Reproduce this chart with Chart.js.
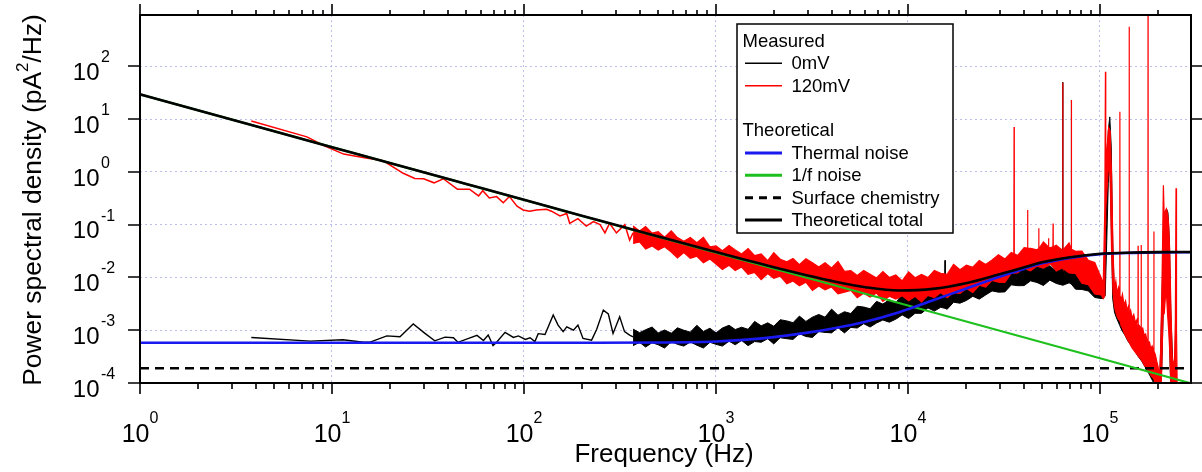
<!DOCTYPE html>
<html><head><meta charset="utf-8">
<script src="https://cdn.jsdelivr.net/npm/chart.js@4.4.0/dist/chart.umd.min.js"></script>
<style>html,body{margin:0;padding:0;background:#fff;overflow:hidden}canvas{display:block}</style>
</head><body><canvas id="c" width="1202" height="472" style="width:1202px;height:472px"></canvas>
<script>
// ---------- tick values / labels ----------
const xMajorTicks = [1, 10, 100, 1000, 10000, 100000];
const xTickExp = ['0', '1', '2', '3', '4', '5'];
const xMinorMult = [2, 3, 4, 5, 6, 7, 8, 9];
const yMajorTicks = [1e-4, 1e-3, 1e-2, 1e-1, 1, 10, 100];
const yTickExp = ['-4', '-3', '-2', '-1', '0', '1', '2'];
const xMin = 1, xMax = 2.98e5, yMin = 1e-4, yMax = 937;

// ---------- measured 0mV (black) ----------
const blackLowF = [3.8, 7.7, 11.4, 14.6, 15.8, 19.3, 22.6, 26.5, 30.5, 34.3, 38.8, 42.9, 45.3, 56.9, 61.5, 65.1, 69, 72, 79.7, 88.1, 93.5, 101.7, 107.6, 114, 118.6, 128.7, 142, 150.5, 160, 167, 181, 191, 203, 225, 239, 259, 275, 291, 315, 334, 355, 370];
const blackLowV = [7.3e-4, 6.2e-4, 6.6e-4, 5.9e-4, 5.95e-4, 7.8e-4, 7.5e-4, 1.31e-3, 8.7e-4, 6.3e-4, 7.4e-4, 7.2e-4, 5.9e-4, 8.0e-4, 6.4e-4, 8.1e-4, 5.1e-4, 5.9e-4, 9.1e-4, 7.3e-4, 7.8e-4, 6.7e-4, 7.2e-4, 6.1e-4, 8.6e-4, 8.3e-4, 1.94e-3, 1.25e-3, 9.4e-4, 1.16e-3, 1.0e-3, 1.25e-3, 7.0e-4, 6.5e-4, 1.03e-3, 2.4e-3, 2.03e-3, 8.7e-4, 1.8e-3, 9.4e-4, 8.1e-4, 7.5e-4];
const blackBandF = [370,400,430,465,500,540,585,630,680,735,
  795,860,930,1000,1080,1170,1260,1360,1470,1590,
  1720,1860,2000,2160,2340,2520,2720,2940,3180,3430,
  3700,4000,4320,4670,5040,5440,5880,6350,6860,7400,
  8000,8640,9330,10080,10890,11760,12700,13720,14810,15550,
  15600,15650,16000,17280,18660,20150,21770,23510,25390,27420,
  29610,31980,34540,37300,40290,43510,46990,50750,54810,59200,
  63930,64000,64100,69050,70900,71000,71100,74570,80540,86980,
  93940,101460,104000,106500,108500,110500,112500,114500,116500,119000,
  122000,126000,130000,135000,140000,146000,152000,158000,165000,172000,
  180000,188000,197000,205000,210000,214000,218000,222000,226000,230000,
  234000,240000,246000,252000];
const blackUpper = [1.05e-3,9.0e-4,1.02e-3,1.15e-3,8.9e-4,1.01e-3,8.8e-4,1.11e-3,1.0e-3,9.2e-4,
  1.24e-3,9.5e-4,1.09e-3,8.9e-4,1.1e-3,1.24e-3,1.03e-3,1.14e-3,1.04e-3,1.47e-3,
  1.21e-3,1.38e-3,1.19e-3,1.58e-3,1.5e-3,1.39e-3,1.85e-3,1.47e-3,1.77e-3,1.99e-3,
  1.77e-3,2.51e-3,1.93e-3,2.24e-3,2.07e-3,2.84e-3,2.75e-3,2.55e-3,3.52e-3,3.13e-3,
  3.76e-3,3.27e-3,4.84e-3,4.05e-3,4.89e-3,4.48e-3,6.07e-3,5.69e-3,5.48e-3,6.0e-3,
  0.021,6.0e-3,8.36e-3,6.86e-3,8.49e-3,7.8e-3,0.0106,8.81e-3,0.0109,0.0135,
  0.0112,0.0143,0.0120,0.0164,0.0154,0.0141,0.0195,0.0148,0.0167,0.0131,
  0.0167,50,0.0165,0.0134,0.0134,23,0.0134,0.0135,0.0101,0.0111,
  8.26e-3,8.13e-3,6.2e-3,0.03,0.8,6,11,3,0.05,0.004,
  0.0045,0.0035,0.003,0.0022,0.0018,0.0013,0.0011,0.0009,0.0008,0.00055,
  0.00045,0.00033,0.00022,0.00012,0.003,0.06,0.15,0.2,0.17,0.05,
  0.002,0.0002,0.00012,0.00005];
const blackLower = [5.1e-4,5.9e-4,4.8e-4,5.8e-4,5.3e-4,4.6e-4,6.1e-4,5.4e-4,5.0e-4,6.0e-4,
  5.2e-4,4.6e-4,5.9e-4,5.4e-4,5.0e-4,6.2e-4,5.3e-4,6.4e-4,5.1e-4,6.1e-4,
  5.9e-4,6.9e-4,5.5e-4,7.2e-4,6.9e-4,6.7e-4,8.6e-4,7.6e-4,7.3e-4,9.4e-4,
  9.1e-4,8.9e-4,1.12e-3,8.9e-4,1.13e-3,1.1e-3,1.33e-3,1.15e-3,1.37e-3,1.56e-3,
  1.42e-3,1.62e-3,1.95e-3,1.66e-3,2.09e-3,2.09e-3,2.64e-3,2.3e-3,2.72e-3,2.6e-3,
  2.6e-3,2.6e-3,2.49e-3,3.39e-3,3.25e-3,3.66e-3,4.39e-3,3.88e-3,4.65e-3,5.55e-3,
  5.26e-3,5.32e-3,7.23e-3,6.97e-3,7.0e-3,8.61e-3,8.02e-3,7.03e-3,8.89e-3,7.69e-3,
  7.13e-3,7.1e-3,7.1e-3,7.89e-3,7.5e-3,7.5e-3,7.5e-3,6.0e-3,5.9e-3,5.55e-3,
  4.17e-3,3.98e-3,4.0e-3,4.5e-3,0.05,0.6,2,0.1,0.004,0.0022,
  0.0017,0.0013,0.001,0.0008,0.00062,0.0005,0.0004,0.00032,0.00026,0.0002,
  0.00015,0.00011,0.00008,0.00005,0.0002,0.003,0.008,0.015,0.008,0.0008,
  0.00006,0.00004,0.00004,0.00003];

// ---------- measured 120mV (red) ----------
const redLowF = [3.8, 7.4, 9.0, 11.5, 14.5, 18.5, 23.5, 27, 30, 34, 38, 45, 52, 58, 61, 66, 72, 78, 84, 92, 99, 107, 116, 131, 139, 154, 167, 173, 191, 211, 230, 249, 264, 279, 303, 335, 355, 370];
const redLowV = [9.2, 4.6, 3.2, 2.17, 1.88, 1.62, 0.94, 0.75, 0.74, 0.62, 0.74, 0.47, 0.47, 0.35, 0.44, 0.32, 0.34, 0.26, 0.34, 0.224, 0.19, 0.18, 0.19, 0.195, 0.18, 0.146, 0.162, 0.106, 0.13, 0.094, 0.114, 0.1, 0.07, 0.106, 0.07, 0.10, 0.051, 0.07];
const redBandF = [370,400,430,465,500,540,585,630,680,735,
  795,860,930,1000,1080,1170,1260,1360,1470,1590,
  1720,1860,2000,2160,2340,2520,2720,2940,3180,3430,
  3700,4000,4320,4670,5040,5440,5880,6350,6860,7400,
  8000,8640,9330,10080,10890,11760,12700,13720,14810,16000,
  17280,18660,20150,21770,23510,25390,27420,29610,31980,34540,
  35600,35700,35800,37300,40290,41900,42000,42100,43510,46990,
  47900,48000,48100,50750,53900,54000,54100,54810,56900,57000,
  57100,59200,63930,64000,64100,69050,70900,71000,71100,74570,
  80540,86980,93940,101460,104000,106000,106800,107200,109000,111000,
  113000,115000,117000,119000,121000,123000,125000,126800,127000,127200,
  129000,131000,133500,136000,138500,140500,141800,142000,142200,144500,
  147000,150000,153000,156000,157800,158000,158200,161000,163800,164000,
  164200,167000,170000,173000,175500,177800,178000,178200,181000,184000,
  187000,190800,191000,191200,194000,198000,201000,204000,207000,210000,
  212000,214000,216000,219000,222000,225000,228000,231000,234000,238000,
  244000,247000,249000,250500,253000];
const redUpper = [0.094,0.0757,0.0925,0.0693,0.0736,0.0579,0.0766,0.0570,0.0485,0.0571,
  0.0455,0.0573,0.0378,0.0398,0.0321,0.0401,0.0331,0.0278,0.0353,0.0258,
  0.0278,0.0208,0.0296,0.0221,0.0198,0.0229,0.0175,0.0226,0.0189,0.0157,
  0.0190,0.0151,0.0201,0.0130,0.0134,0.0109,0.0135,0.0115,0.00975,0.0129,
  0.00995,0.0112,0.00861,0.0127,0.0099,0.0114,0.00993,0.0135,0.0120,0.0114,
  0.0177,0.0140,0.0171,0.0156,0.0210,0.0175,0.0215,0.0270,0.0224,0.0298,
  0.028,7.1,0.028,0.0261,0.0366,0.036,0.19,0.036,0.0356,0.0333,
  0.035,0.085,0.035,0.0469,0.038,0.055,0.038,0.0363,0.038,0.105,
  0.038,0.0408,0.0325,49,0.033,0.045,0.034,23,0.034,0.0313,
  0.0315,0.0211,0.0192,0.0099,0.0075,0.2,79,1.5,3,7,
  6,0.8,0.03,0.006,0.0085,0.005,0.0065,0.005,13.7,0.0045,
  0.0038,0.0048,0.003,0.0036,0.0024,0.0028,0.0021,560,0.002,0.0024,
  0.0017,0.002,0.0014,0.0016,0.0013,0.04,0.0013,0.0012,0.00105,0.041,
  0.00105,0.0011,0.0008,0.00085,0.00065,0.0006,3000,0.0006,0.0006,0.00045,
  0.0005,0.0004,0.074,0.0004,0.00035,0.00025,0.0002,0.00012,0.0004,0.005,
  0.05,0.56,0.15,0.18,0.2,0.16,0.1,0.03,0.003,0.0003,
  0.0002,0.0015,0.49,0.001,0.00005];
const redLower = [0.0439,0.0471,0.0344,0.0394,0.0330,0.0380,0.0302,0.0235,0.0296,0.0230,
  0.0252,0.0190,0.0224,0.0179,0.0141,0.0170,0.0135,0.0157,0.0115,0.0124,
  0.00908,0.0118,0.00962,0.0106,0.00762,0.00859,0.00698,0.00811,0.00566,0.00689,
  0.00581,0.00658,0.0049,0.00527,0.00569,0.00415,0.00502,0.00423,0.00507,0.0035,
  0.00439,0.00389,0.00451,0.00361,0.00439,0.00344,0.00457,0.00415,0.00516,0.00414,
  0.00515,0.00498,0.00618,0.0052,0.00711,0.00659,0.00881,0.00813,0.00802,0.0121,
  0.0121,0.0121,0.0121,0.0122,0.0157,0.014,0.014,0.014,0.0133,0.0164,
  0.016,0.016,0.016,0.0151,0.017,0.017,0.017,0.0185,0.016,0.016,
  0.016,0.0132,0.0153,0.0153,0.015,0.0122,0.012,0.012,0.012,0.0119,
  0.00778,0.00726,0.00486,0.00469,0.0040,0.0045,0.1,0.2,0.5,1.5,
  0.8,0.03,0.005,0.0028,0.0022,0.0018,0.0016,0.0015,0.0015,0.0015,
  0.0012,0.0011,0.0009,0.00078,0.0007,0.00062,0.0006,0.0006,0.0006,0.00052,
  0.00046,0.00042,0.00038,0.00035,0.00033,0.00033,0.00033,0.0003,0.00028,0.00028,
  0.00028,0.00025,0.00022,0.0002,0.00019,0.00018,0.00018,0.00017,0.00016,0.00014,
  0.00013,0.00012,0.00012,0.00012,0.0001,0.00008,0.00006,0.00004,0.00005,0.0002,
  0.001,0.003,0.002,0.004,0.005,0.002,0.001,0.0004,0.0001,0.00004,
  0.00004,0.00006,0.0001,0.00004,0.00003];

// ---------- theoretical curves ----------
const theoryF = [1, 2, 5, 10, 20, 50, 100, 200, 500, 1000, 1500, 2000, 3000, 4000, 6000, 9000, 13500, 20000, 30000, 40000, 50000, 70000, 100000, 150000, 200000, 298000];
const thermalV = [5.8e-4, 5.8e-4, 5.8e-4, 5.8e-4, 5.8e-4, 5.8e-4, 5.8e-4, 5.8e-4, 5.85e-4, 6.1e-4, 6.7e-4, 7.4e-4, 9.0e-4, 1.07e-3, 1.45e-3, 2.2e-3, 3.7e-3, 6.1e-3, 1.03e-2, 1.45e-2, 1.85e-2, 2.35e-2, 2.75e-2, 2.92e-2, 2.98e-2, 3.0e-2];
const totalV = [29.4, 14.7, 5.88, 2.94, 1.47, 0.589, 0.295, 0.148, 0.0596, 0.0302, 0.0205, 0.0156, 0.0109, 0.0086, 0.00654, 0.00566, 0.00607, 0.00776, 0.0115, 0.0154, 0.0193, 0.0241, 0.0280, 0.0296, 0.0301, 0.0303];
const flickerF = [1, 10, 100, 1000, 10000, 100000, 298000];
const flickerV = [29.4, 2.94, 0.294, 0.0294, 0.00294, 0.000294, 0.0000987];
const surfaceF = [1, 298000];
const surfaceV = [1.9e-4, 1.9e-4];

// ---------- legend entries ----------
const legendRows = [
  {text: 'Measured', header: true},
  {text: '0mV', color: '#000000', width: 1.4},
  {text: '120mV', color: '#ff0000', width: 1.4},
  {text: '', spacer: true},
  {text: 'Theoretical', header: true},
  {text: 'Thermal noise', color: '#1a1af0', width: 3},
  {text: '1/f noise', color: '#1ec01e', width: 3},
  {text: 'Surface chemistry', color: '#000000', width: 3, dash: [8, 6]},
  {text: 'Theoretical total', color: '#000000', width: 3}
];

const pts = (f, v) => f.map((x, i) => ({x: x, y: v[i]}));
const FONT = '"Liberation Sans", Arial, Helvetica, sans-serif';

const datasets = [
  {data: pts(blackBandF, blackUpper), borderColor: '#000', borderWidth: 1, fill: false},
  {data: pts(blackBandF, blackLower), borderColor: '#000', borderWidth: 1, fill: '-1', backgroundColor: '#000'},
  {data: pts(blackLowF, blackLowV), borderColor: '#000', borderWidth: 1.4, fill: false},
  {data: pts(redBandF, redUpper), borderColor: '#ff0000', borderWidth: 1.2, fill: false},
  {data: pts(redBandF, redLower), borderColor: '#ff0000', borderWidth: 1.2, fill: '-1', backgroundColor: '#ff0000'},
  {data: pts(redLowF, redLowV), borderColor: '#ff0000', borderWidth: 1.5, fill: false},
  {data: pts(surfaceF, surfaceV), borderColor: '#000', borderWidth: 2.5, borderDash: [9, 6], fill: false},
  {data: pts(flickerF, flickerV), borderColor: '#1ec01e', borderWidth: 2.2, fill: false},
  {data: pts(theoryF, thermalV), borderColor: '#1a1af0', borderWidth: 2.6, fill: false, cubicInterpolationMode: 'monotone'},
  {data: pts(theoryF, totalV), borderColor: '#000', borderWidth: 2.6, fill: false, cubicInterpolationMode: 'monotone'}
];
datasets.forEach((d, i) => { d.order = 20 - i; d.pointRadius = 0; d.tension = 0; });

function drawPow(ctx, exp, x, yBase, yExpBase, mainSize, expSize, align) {
  ctx.font = mainSize + 'px ' + FONT;
  const w10 = ctx.measureText('10').width;
  ctx.font = expSize + 'px ' + FONT;
  const we = ctx.measureText(exp).width;
  ctx.textAlign = 'left';
  ctx.textBaseline = 'alphabetic';
  const start = align === 'center' ? x - (w10 + we) / 2 : x - w10;
  ctx.font = mainSize + 'px ' + FONT;
  ctx.fillText('10', start, yBase);
  ctx.font = expSize + 'px ' + FONT;
  ctx.fillText(exp, start + w10 + (align === 'center' ? 0 : 1.5), yExpBase);
}

const framePlugin = {
  id: 'frame',
  afterDraw(chart) {
    const {ctx, chartArea: a, scales: {x, y}} = chart;
    ctx.save();
    ctx.fillStyle = '#000';
    ctx.strokeStyle = '#000';
    ctx.lineWidth = 1.6;
    ctx.beginPath();
    xMajorTicks.forEach(v => {
      const px = Math.round(x.getPixelForValue(v));
      ctx.moveTo(px, a.bottom); ctx.lineTo(px, a.bottom + 11);
      ctx.moveTo(px, a.top); ctx.lineTo(px, a.top - 11);
      xMinorMult.forEach(m => {
        const val = v * m;
        if (val <= xMax) {
          const mx = Math.round(x.getPixelForValue(val));
          ctx.moveTo(mx, a.bottom); ctx.lineTo(mx, a.bottom + 6);
          ctx.moveTo(mx, a.top); ctx.lineTo(mx, a.top - 5);
        }
      });
    });
    yMajorTicks.forEach(v => {
      const py = Math.round(y.getPixelForValue(v));
      ctx.moveTo(a.left, py); ctx.lineTo(a.left - 12, py);
      ctx.moveTo(a.right, py); ctx.lineTo(a.right + 11, py);
    });
    ctx.stroke();
    ctx.lineWidth = 2;
    ctx.strokeRect(a.left, a.top, a.right - a.left, a.bottom - a.top);
    xMajorTicks.forEach((v, i) => {
      drawPow(ctx, xTickExp[i], x.getPixelForValue(v), a.bottom + 59, a.bottom + 40, 25, 16, 'center');
    });
    yMajorTicks.forEach((v, i) => {
      const py = y.getPixelForValue(v);
      drawPow(ctx, yTickExp[i], 99.5, py + 13.7, py - 4, 24, 16, 'right');
    });
    ctx.font = '26px ' + FONT;
    ctx.textAlign = 'center';
    ctx.textBaseline = 'alphabetic';
    ctx.fillText('Frequency (Hz)', 664, 462);
    ctx.save();
    ctx.translate(41, 200);
    ctx.rotate(-Math.PI / 2);
    const p1 = 'Power spectral density (pA', p2 = '/Hz)', sup = '2';
    ctx.font = '26.4px ' + FONT;
    const w1 = ctx.measureText(p1).width, w2 = ctx.measureText(p2).width;
    ctx.font = '17px ' + FONT;
    const ws = ctx.measureText(sup).width;
    const sx = -(w1 + ws + w2) / 2;
    ctx.textAlign = 'left';
    ctx.font = '26.4px ' + FONT;
    ctx.fillText(p1, sx, 0);
    ctx.font = '17px ' + FONT;
    ctx.fillText(sup, sx + w1, -13);
    ctx.font = '26.4px ' + FONT;
    ctx.fillText(p2, sx + w1 + ws, 0);
    ctx.restore();
    ctx.restore();
  }
};

const legendPlugin = {
  id: 'customLegend',
  afterDraw(chart) {
    const ctx = chart.ctx;
    ctx.save();
    const bx = 737, by = 24, bw = 216, bh = 209;
    ctx.fillStyle = '#fff';
    ctx.fillRect(bx, by, bw, bh);
    ctx.strokeStyle = '#000';
    ctx.lineWidth = 1.5;
    ctx.strokeRect(bx, by, bw, bh);
    ctx.font = '18.5px ' + FONT;
    ctx.textBaseline = 'alphabetic';
    ctx.textAlign = 'left';
    ctx.fillStyle = '#000';
    const rowH = 22.4;
    let base = 46.7;
    legendRows.forEach(r => {
      if (r.header) {
        ctx.fillText(r.text, 742.5, base);
      } else if (!r.spacer) {
        ctx.beginPath();
        ctx.strokeStyle = r.color;
        ctx.lineWidth = r.width;
        ctx.setLineDash(r.dash || []);
        ctx.moveTo(745, base - 5.8);
        ctx.lineTo(782, base - 5.8);
        ctx.stroke();
        ctx.setLineDash([]);
        ctx.fillText(r.text, 791.5, base);
      }
      base += rowH;
    });
    ctx.restore();
  }
};

const gridColor = 'rgba(165,170,225,0.75)';
new Chart(document.getElementById('c').getContext('2d'), {
  type: 'line',
  data: {datasets: datasets},
  options: {
    responsive: false,
    animation: false,
    devicePixelRatio: 1,
    events: [],
    layout: {padding: {left: 140, right: 11, top: 15, bottom: 89}},
    plugins: {legend: {display: false}, tooltip: {enabled: false}},
    scales: {
      x: {
        type: 'logarithmic', min: xMin, max: xMax,
        afterBuildTicks: s => { s.ticks = xMajorTicks.map(v => ({value: v})); },
        ticks: {display: false},
        grid: {drawTicks: false, color: gridColor, lineWidth: 1},
        border: {display: false, dash: [2, 3]}
      },
      y: {
        type: 'logarithmic', min: yMin, max: yMax,
        afterBuildTicks: s => { s.ticks = yMajorTicks.map(v => ({value: v})); },
        ticks: {display: false},
        grid: {drawTicks: false, color: gridColor, lineWidth: 1},
        border: {display: false, dash: [2, 3]}
      }
    }
  },
  plugins: [framePlugin, legendPlugin]
});
</script></body></html>
